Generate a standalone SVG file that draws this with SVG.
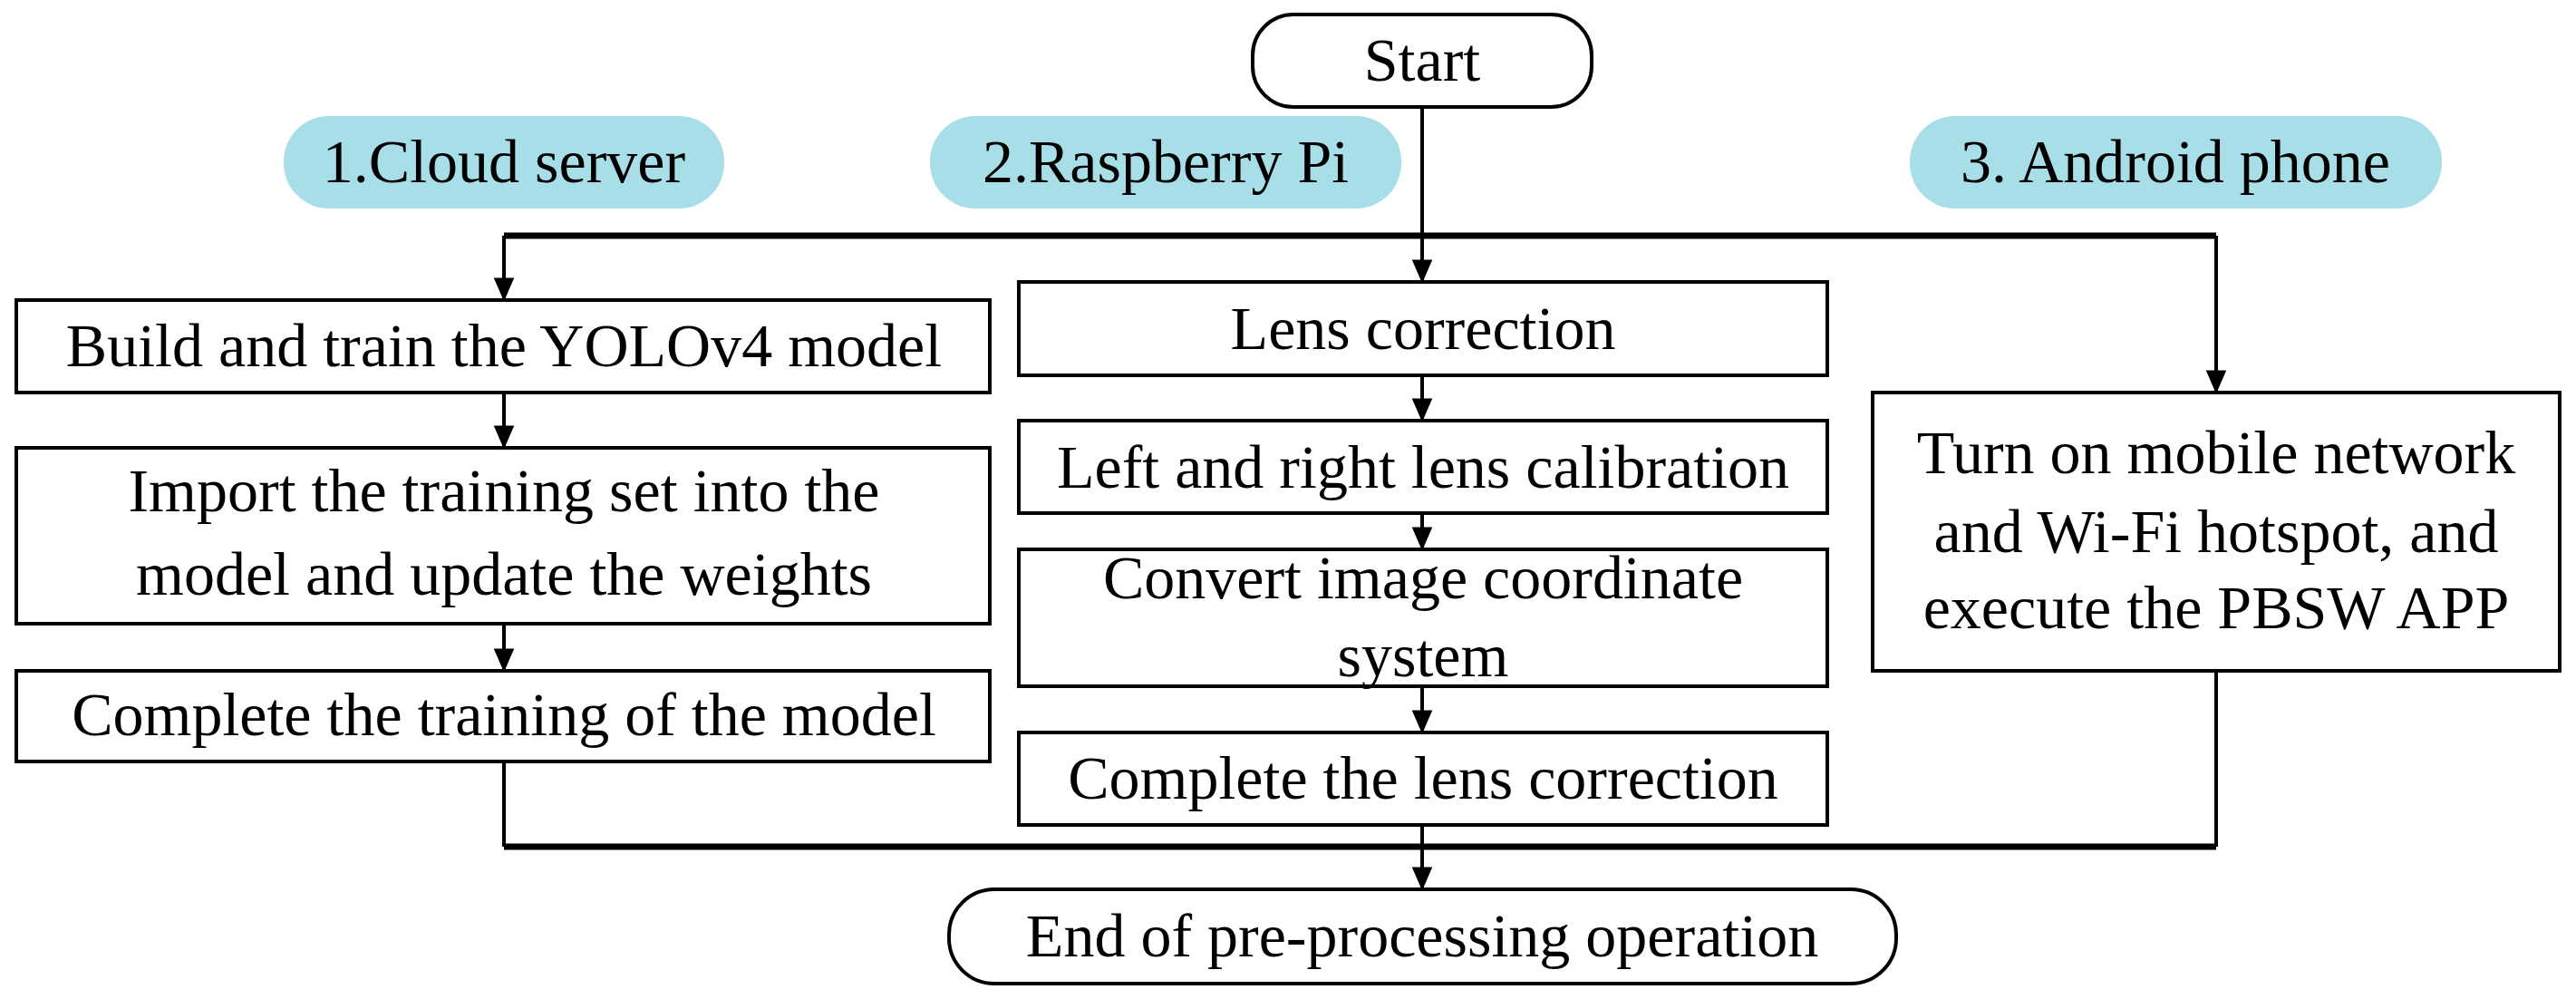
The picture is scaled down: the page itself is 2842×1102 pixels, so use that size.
<svg xmlns="http://www.w3.org/2000/svg" width="2842" height="1102" viewBox="0 0 2842 1102">
<style>
text{font-family:"Liberation Serif","Times New Roman",serif;font-size:68px;fill:#000;text-anchor:middle}
.box{fill:#fff;stroke:#000;stroke-width:4}
.pill{fill:#a8dee8}
.ln{fill:none;stroke:#000;stroke-width:4}
.bus{fill:none;stroke:#000;stroke-width:7}
</style>
<defs><marker id="ah" markerWidth="26" markerHeight="30" refX="26" refY="13" orient="auto" markerUnits="userSpaceOnUse" viewBox="0 0 30 26"><path d="M0,0 L30,13 L0,26 Z" fill="#000"/></marker></defs>
<rect width="2842" height="1102" fill="#fff"/>
<g id="connectors">
<path class="ln" d="M1569,118 V260"/>
<path class="bus" d="M556,260 H2445"/>
<path class="ln" d="M556,260 V329" marker-end="url(#ah)"/>
<path class="ln" d="M1569,260 V309" marker-end="url(#ah)"/>
<path class="ln" d="M2445,260 V431" marker-end="url(#ah)"/>
<path class="ln" d="M556,433 V492" marker-end="url(#ah)"/>
<path class="ln" d="M556,688 V738" marker-end="url(#ah)"/>
<path class="ln" d="M1569,414 V462" marker-end="url(#ah)"/>
<path class="ln" d="M1569,566 V604" marker-end="url(#ah)"/>
<path class="ln" d="M1569,757 V806" marker-end="url(#ah)"/>
<path class="ln" d="M556,840 V934"/>
<path class="ln" d="M2445,740 V934"/>
<path class="bus" d="M556,934 H2445"/>
<path class="ln" d="M1569,910 V979" marker-end="url(#ah)"/>
</g>
<g id="start"><rect class="box" x="1382" y="16" width="374" height="102" rx="45" ry="45"/><text x="1569" y="89">Start</text></g>
<g id="lane1"><rect class="pill" x="313" y="128" width="486" height="102" rx="50"/><text x="556" y="201">1.Cloud server</text></g>
<g id="lane2"><rect class="pill" x="1026" y="128" width="520" height="102" rx="50"/><text x="1286" y="201">2.Raspberry Pi</text></g>
<g id="lane3"><rect class="pill" x="2107" y="128" width="587" height="102" rx="50"/><text x="2400" y="201">3. Android phone</text></g>
<g id="c1"><rect class="box" x="18" y="331" width="1074" height="102"/><text x="556" y="404">Build and train the YOLOv4 model</text></g>
<g id="c2"><rect class="box" x="18" y="494" width="1074" height="194"/><text x="556" y="564">Import the training set into the</text><text x="556" y="656">model and update the weights</text></g>
<g id="c3"><rect class="box" x="18" y="740" width="1074" height="100"/><text x="556" y="811">Complete the training of the model</text></g>
<g id="r1"><rect class="box" x="1124" y="311" width="892" height="103"/><text x="1570" y="385">Lens correction</text></g>
<g id="r2"><rect class="box" x="1124" y="464" width="892" height="102"/><text x="1570" y="538">Left and right lens calibration</text></g>
<g id="r3"><rect class="box" x="1124" y="606" width="892" height="151"/><text x="1570" y="660">Convert image coordinate</text><text x="1570" y="746">system</text></g>
<g id="r4"><rect class="box" x="1124" y="808" width="892" height="102"/><text x="1570" y="881">Complete the lens correction</text></g>
<g id="a1"><rect class="box" x="2066" y="433" width="758" height="307"/><text x="2445" y="522">Turn on mobile network</text><text x="2445" y="609">and Wi-Fi hotspot, and</text><text x="2445" y="693">execute the PBSW APP</text></g>
<g id="end"><rect class="box" x="1047" y="981" width="1045" height="104" rx="50" ry="50"/><text x="1569" y="1055">End of pre-processing operation</text></g>
</svg>
